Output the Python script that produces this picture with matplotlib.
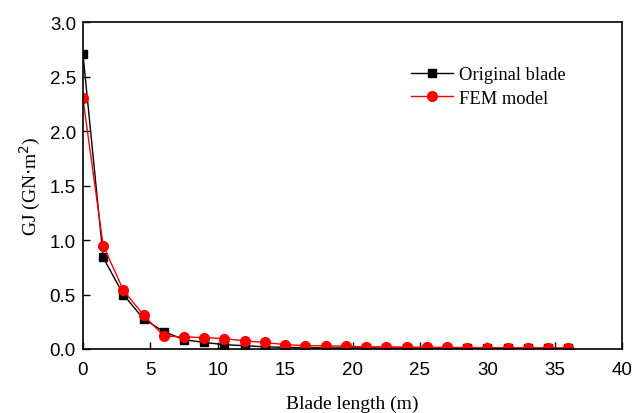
import numpy as np
import matplotlib
matplotlib.use("Agg")
import matplotlib.pyplot as plt

# positions le long de la pale (m)
longueur = np.arange(0, 36.1, 1.5)
gj_original = [2.71, 0.84, 0.50, 0.275, 0.16, 0.085, 0.06, 0.04, 0.03, 0.02,
               0.015, 0.012, 0.01, 0.01, 0.01, 0.008, 0.008, 0.007, 0.007, 0.006,
               0.006, 0.005, 0.005, 0.005, 0.005]
gj_fem = [2.30, 0.95, 0.54, 0.31, 0.12, 0.11, 0.105, 0.095, 0.075, 0.06,
          0.04, 0.03, 0.03, 0.025, 0.02, 0.02, 0.018, 0.016, 0.015, 0.013,
          0.012, 0.012, 0.011, 0.011, 0.01]

serif = "Liberation Serif"
sans = "Liberation Sans"


def main():
    fig = plt.figure(figsize=(6.33, 4.14), dpi=100)
    ax = fig.add_axes([0.131, 0.1546, 0.852, 0.7894])
    ax.plot(longueur, gj_original, "s-", color="black", lw=1, ms=6, label="Original blade")
    ax.plot(longueur, gj_fem, "o-", color="red", lw=1, ms=7, label="FEM model")
    ax.set_xlim(0, 40)
    ax.set_ylim(0, 3.0)
    ax.set_xticks(np.arange(0, 41, 5))
    ax.set_yticks(np.arange(0, 3.01, 0.5))
    ax.tick_params(direction="in", length=5, width=1, labelsize=13.5, pad=5)
    ax.tick_params(axis="x", pad=9)
    for lab in ax.get_xticklabels() + ax.get_yticklabels():
        lab.set_fontfamily(sans)
    for s in ax.spines.values():
        s.set_linewidth(1.2)
    ax.set_xlabel("Blade length (m)", fontsize=14, fontfamily=serif, labelpad=12)
    ax.set_ylabel(r"GJ (GN$\cdot$m$^2$)", fontsize=14, fontfamily=serif, labelpad=5)
    ax.legend(loc="upper left", bbox_to_anchor=(0.609, 0.865), frameon=False,
              prop={"family": serif, "size": 13.3}, handlelength=2.27,
              handletextpad=0.33, borderpad=0, borderaxespad=0, labelspacing=0.35)
    fig.savefig("out.png", dpi=100)


if __name__ == "__main__":
    main()
